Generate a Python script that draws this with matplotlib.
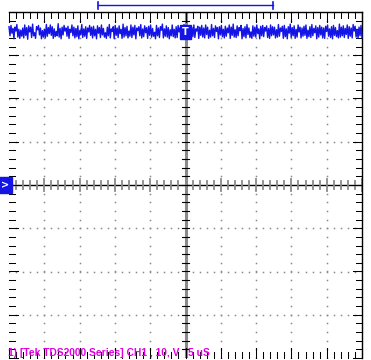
import matplotlib
matplotlib.use('Agg')
import matplotlib.pyplot as plt
import numpy as np

# screen layout: 10 x 8 divisions, 5 minor marks per division
X_DIVS = [-5, 5]
Y_DIVS = [-4, 4]
MINOR = 0.2

# channel 1 trace level (divisions above ground) and noise (1/100 div)
TRACE_LEVEL = 3.54
NOISE = [
    12, -9, 15, -3, 8, -16, 11, 2, 17, -12, 6, -15, 4, -10, 9, -14, 16, -8, 10, -17,
    14, 0, 11, -13, 18, -9, -2, -15, 12, 5, 15, -7, 9, -16, 3, -12, 6, -14, 17, -10,
    10, -4, 16, -8, 12, -15, 7, -11, 1, -9, 19, -12, 8, -16, 11, -7, 15, 2, 9, -10,
    13, -15, 6, -1, 16, -9, 11, -14, 8, -11, 14, -16, 3, -7, 17, -13, 7, -10, 12, -15,
    9, 0, 15, -8, 11, -14, 13, -9, 6, -16, 14, -3, 10, -13, 16, -7, 8, -12, -2, -15,
    11, -9, 17, -14, 7, 1, 12, -16, 15, -8, 9, -13, 14, -4, 6, -15, 18, -12, 10, -9,
    13, -14, 2, -10, 16, -13, 11, -7, 15, -16, 9, 3, 12, -9, 17, -14, 7, -11, 14, -2,
    10, -15, 13, -8, 16, -12, 8, -10, -1, -16, 15, -9, 9, -13, 12, 4, 18, -14, 7, -10,
    14, -12, 10, -16, 5, -9, 16, -11, 6, -14, 12, -13, 15, 0, 9, -15, 11, -10, 17, -12,
    8, -14, 14, -3, 12, -16, 10, -11, 16, -13, 7, 2, 13, -15, 11, -8, 15, -12, 9, -14,
    16, -6, 11, -15, 4, -12, 17, -9, 8, -13, 14, 1, 10, -16, 12, -7, 15, -11, 6, -14,
    13, -10, 9, -2, 16, -15, 11, -8, 18, -12, 5, -13, 14, -9, 10, 3, 15, -16, 8, -11,
    12, -14, 17, -6, 9, -13, 0, -15, 14, -10, 11, -12, 16, -4, 7, -16, 13, -9, 15, -11,
    10, 2, 14, -13, 8, -15, 16, -9, 12, -7, 11, -14, 5, -12, 17, -10, 9, 1, 13, -15,
    15, -11, 7, -16, 12, -3, 18, -13, 10, -9, 14, -15, 6, -12, 16, 0, 11, -14, 9, -10,
    13, -8, 16, -15, 4, -11, 12, -13, 17, -9, 8, -2, 14, -16, 10, -12, 15, -7, 11, -14,
    9, -15, 13, 1, 16, -10, 7, -13, 12, -16, 15, -8, 10, -11, 3, -14, 18, -12, 11, -9,
    14, -13, 8, -6, 16, -15, 12, -10, 9, -14, 17, 2, 13, -12, 6, -15, 11, -9, 15, -13,
]

TEXT_LINE = '1) [Tek TDS2000 Series] CH1 , 10, V   5 uS'

BLUE = '#1414e6'
GRAY = '#8a8a8a'
MAGENTA = '#e000e0'

fig = plt.figure(figsize=(3.71, 3.60), dpi=100)
ax = fig.add_axes([9 / 371, 2 / 360, 353 / 371, 346 / 360])
ax.set_xlim(*X_DIVS)
ax.set_ylim(*Y_DIVS)
ax.axis('off')

minor_x = np.arange(X_DIVS[0], X_DIVS[1] + 1e-9, MINOR)
minor_y = np.arange(Y_DIVS[0], Y_DIVS[1] + 1e-9, MINOR)

# dotted graticule
for gx in range(X_DIVS[0] + 1, X_DIVS[1]):
    if gx == 0:
        continue
    ax.plot(np.full(len(minor_y), gx), minor_y, ls='none', marker='s',
            ms=1.1, mew=0, color=GRAY)
for gy in range(Y_DIVS[0] + 1, Y_DIVS[1]):
    if gy == 0:
        continue
    ax.plot(minor_x, np.full(len(minor_x), gy), ls='none', marker='s',
            ms=1.1, mew=0, color=GRAY)

# centre axes
ax.axvline(0, color=GRAY, lw=2.2)
ax.axhline(0, color='black', lw=1.0)
for v in minor_x:
    h = 0.14 if abs(v - round(v)) < 1e-6 else 0.09
    ax.plot([v, v], [-h, h], color=GRAY, lw=1.3)
for v in minor_y:
    ax.plot([-0.1, 0.1], [v, v], color='black', lw=0.8)

# frame: top and right lines, ticks on all four edges
ax.plot(X_DIVS, [Y_DIVS[1]] * 2, color='black', lw=1.0, clip_on=False)
ax.plot([X_DIVS[1]] * 2, Y_DIVS, color='black', lw=1.0, clip_on=False)
for v in minor_x:
    big = abs(v - round(v)) < 1e-6
    h = 0.22 if big else 0.13
    ax.plot([v, v], [Y_DIVS[1], Y_DIVS[1] - h], color='black', lw=0.75, clip_on=False)
    ax.plot([v, v], [Y_DIVS[0], Y_DIVS[0] + h], color='black', lw=0.75, clip_on=False)
for v in minor_y:
    big = abs(v - round(v)) < 1e-6
    w = 0.26 if big else 0.17
    ax.plot([X_DIVS[0], X_DIVS[0] + w], [v, v], color='black', lw=0.75, clip_on=False)
    ax.plot([X_DIVS[1], X_DIVS[1] - w], [v, v], color='black', lw=0.75, clip_on=False)

# trace
noise = np.array(NOISE) / 100.0
tx = np.linspace(X_DIVS[0], X_DIVS[1], len(noise))
ax.plot(tx, TRACE_LEVEL + noise, color=BLUE, lw=1.0, clip_on=False)

# record view bracket above the screen
ax.plot([-2.48, 2.48], [4.16, 4.16], color=BLUE, lw=1.0, clip_on=False)
for bx in (-2.48, 2.48):
    ax.plot([bx, bx], [4.08, 4.22], color=BLUE, lw=1.2, clip_on=False)

# trigger marker and channel ground marker
ax.text(0, TRACE_LEVEL, 'T', color='white', fontsize=7, fontweight='bold',
        ha='center', va='center', family='DejaVu Sans',
        bbox=dict(boxstyle='square,pad=0.2', fc=BLUE, ec=BLUE))
ax.text(X_DIVS[0] - 0.12, 0, '>', color='white', fontsize=7, fontweight='bold',
        ha='center', va='center', family='DejaVu Sans', clip_on=False,
        bbox=dict(boxstyle='square,pad=0.35', fc=BLUE, ec=BLUE))

# status line
fig.text(8 / 371, 2 / 360, TEXT_LINE, color=MAGENTA, fontsize=7.4, fontweight='bold',
         family='Liberation Sans', ha='left', va='bottom')

fig.savefig('out.png', dpi=100, facecolor='white')
